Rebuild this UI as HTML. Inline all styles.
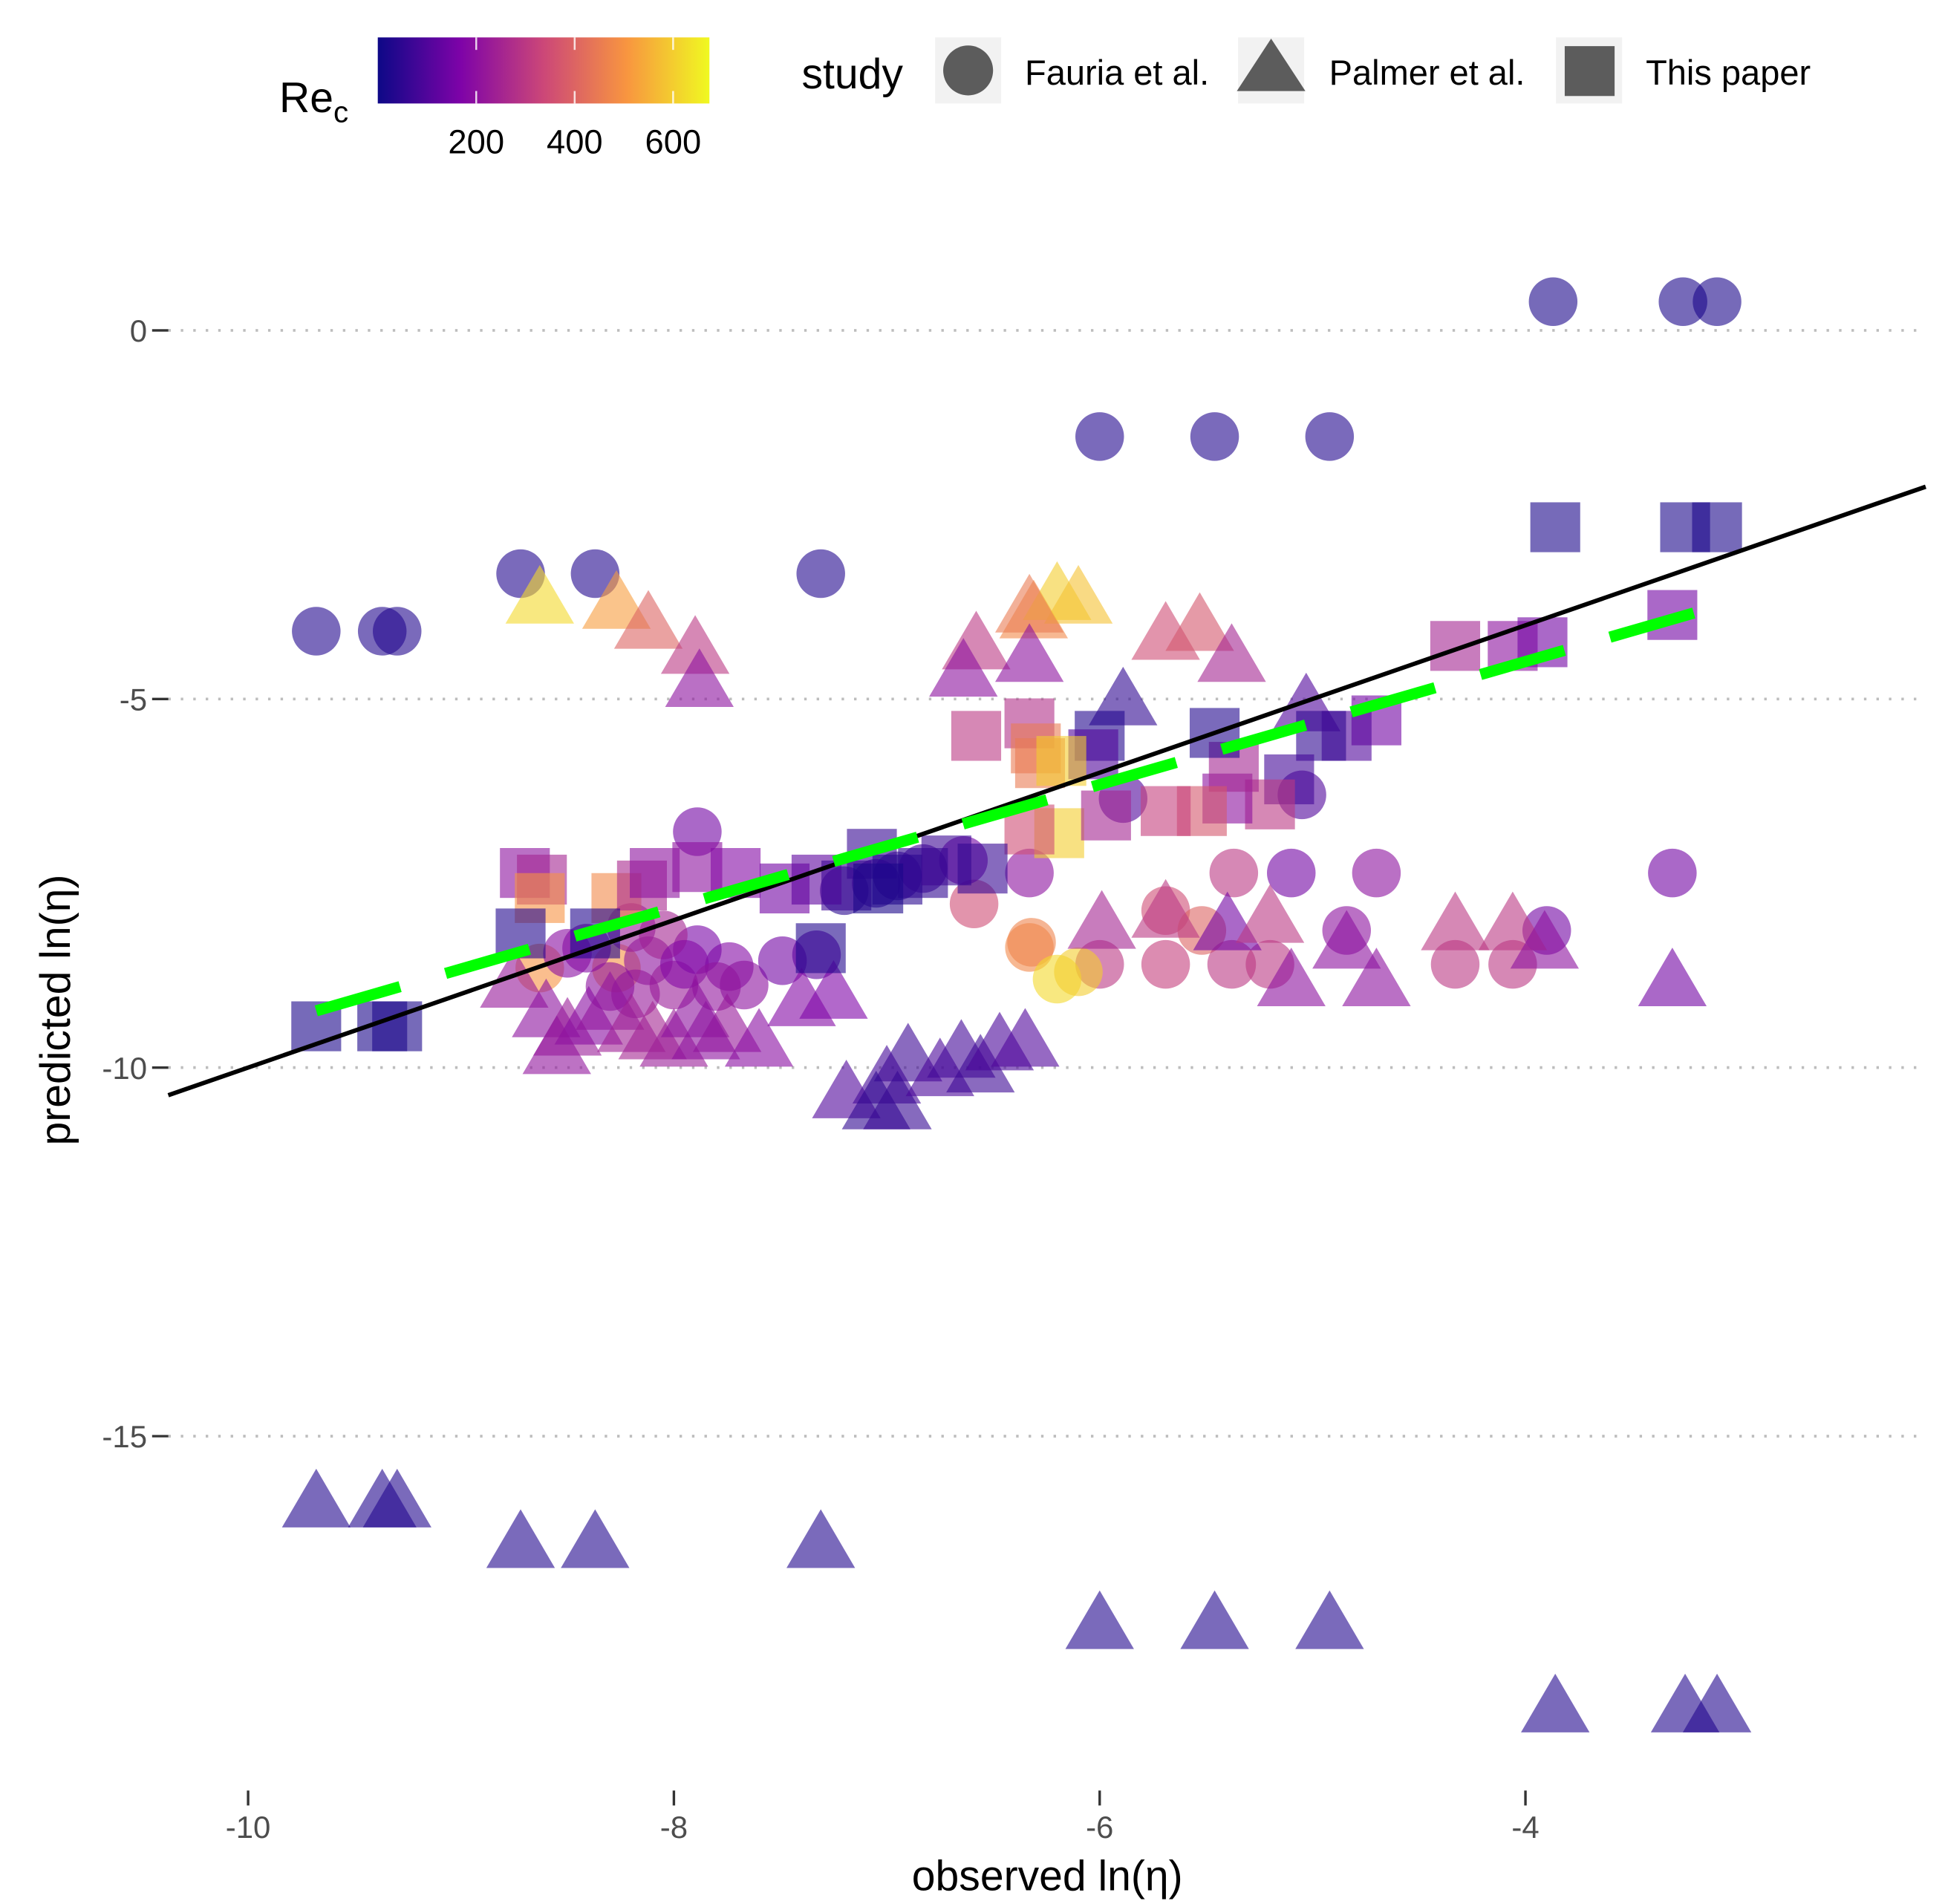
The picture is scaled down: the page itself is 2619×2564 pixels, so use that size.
<!DOCTYPE html>
<html><head><meta charset="utf-8"><style>
html,body{margin:0;padding:0;background:#fff;}
svg{display:block;font-family:"Liberation Sans",sans-serif;}
</style></head><body>
<svg id="chart" width="2619" height="2564" viewBox="0 0 1560 1527" preserveAspectRatio="none" xmlns="http://www.w3.org/2000/svg">
<defs>
<linearGradient id="plasma" x1="0" x2="1" y1="0" y2="0">
<stop offset="0" stop-color="#0d0887"/><stop offset="0.25" stop-color="#7e03a8"/><stop offset="0.5" stop-color="#cc4778"/><stop offset="0.75" stop-color="#f89540"/><stop offset="1" stop-color="#f0f921"/>
</linearGradient>
</defs>
<g id="grid"></g>
<g id="axes"></g>
<g id="marks"></g>
<g id="lines"></g>
<g>
<text x="224" y="90" font-size="34" fill="#000">Re<tspan font-size="24" dy="8">c</tspan></text>
<rect x="303" y="30" width="266" height="53" fill="url(#plasma)"/>
<g id="cbticks"></g>
</g>
<g>
<text x="643" y="71" font-size="34" fill="#000">study</text>
<rect x="750" y="30" width="53" height="53" fill="#f2f2f2"/>
<circle cx="776.5" cy="56.5" r="20" fill="#5c5c5c"/>
<text x="822" y="68" font-size="28" fill="#000">Fauria et al.</text>
<rect x="993" y="30" width="53" height="53" fill="#f2f2f2"/>
<polygon points="1019.5,31 1047,73 992,73" fill="#5c5c5c"/>
<text x="1066" y="68" font-size="28" fill="#000">Palmer et al.</text>
<rect x="1248" y="30" width="53" height="53" fill="#f2f2f2"/>
<rect x="1255" y="37" width="40" height="40" fill="#5c5c5c"/>
<text x="1320" y="68" font-size="28" fill="#000">This paper</text>
</g>
<text x="840" y="1516" font-size="34" text-anchor="middle" fill="#000">observed ln(η)</text>
<text transform="translate(56,810) rotate(-90)" font-size="34" text-anchor="middle" fill="#000">predicted ln(η)</text>
</svg>
<script>
const xTicks = [-10, -8, -6, -4];
const yTicks = [0, -5, -10, -15];
const cbTicks = [200, 400, 600];
// Fauria et al. (circles)
const circX = [-3.87,-3.26,-3.10,-6.0,-5.46,-4.92,-8.72,-8.37,-7.31,-9.68,-9.37,-9.30,
 -5.37,-5.10,-4.70,-3.31,-3.90,-4.84,-5.69,-5.52,-6.33,-6.32,-6.0,-5.69,-5.38,-5.20,-4.33,-4.06,-6.20,-6.10,
 -5.89,-5.05,-6.59,-6.64,-6.33,-7.89,-8.63,-8.27,-8.41,-8.12,-8.0,-7.74,-7.67,-7.49,-7.33,-7.89,-8.18,-6.95,-6.83,-7.05,-7.2,
 -8.3,-8.05,-7.95,-7.8,-8.5,-8.2];
const circY = [0.39,0.39,0.39,-1.44,-1.44,-1.44,-3.3,-3.3,-3.3,-4.08,-4.08,-4.08,
 -7.36,-7.36,-7.36,-7.36,-8.14,-8.14,-7.87,-8.14,-8.37,-8.3,-8.6,-8.6,-8.6,-8.6,-8.6,-8.6,-8.8,-8.7,
 -6.35,-6.3,-7.78,-7.19,-7.36,-6.8,-8.65,-8.65,-8.38,-8.55,-8.88,-8.63,-8.88,-8.55,-8.47,-8.4,-9.0,-7.4,-7.3,-7.5,-7.6,
 -8.9,-8.2,-8.6,-8.9,-8.45,-8.1];
const circRe = [20,20,20,30,30,30,30,30,30,30,30,30,
 300,150,200,150,150,200,350,400,480,470,300,320,300,300,300,300,620,600,
 100,100,350,150,200,150,500,500,180,200,230,180,200,150,120,160,220,60,80,50,40,
 200,250,180,210,190,230];
// Palmer et al. (triangles)
const triX = [-9.68,-9.37,-9.30,-8.72,-8.37,-7.31,-6.0,-5.46,-4.92,-3.86,-3.25,-3.10,
 -8.63,-8.27,-8.12,-7.90,-7.88,-6.31,-6.20,-6.10,-6.33,-6.58,-6.64,-6.33,-5.69,-5.53,-5.38,-5.89,-5.03,
 -5.99,-5.69,-5.40,-5.20,-4.33,-4.06,-3.91,-4.84,-5.10,-4.70,-3.31,
 -8.75,-8.6,-8.5,-8.4,-8.3,-8.1,-8.0,-7.9,-7.75,-7.6,-8.55,-8.2,-7.85,-7.4,-7.25,
 -7.19,-7.0,-6.9,-7.05,-6.95,-6.75,-6.65,-6.56,-6.47,-6.35];
const triY = [-15.95,-15.95,-15.95,-16.5,-16.5,-16.5,-17.6,-17.6,-17.6,-18.73,-18.73,-18.73,
 -3.69,-3.76,-4.03,-4.37,-4.82,-3.89,-3.64,-3.69,-3.81,-4.31,-4.68,-4.48,-4.18,-4.06,-4.48,-5.07,-5.15,
 -8.1,-7.95,-8.12,-8.02,-8.12,-8.12,-8.37,-8.37,-8.88,-8.88,-8.88,
 -8.9,-9.3,-9.55,-9.4,-9.2,-9.6,-9.7,-9.3,-9.5,-9.7,-9.8,-9.5,-9.6,-9.15,-9.05,
 -10.4,-10.2,-9.9,-10.55,-10.55,-10.1,-9.85,-10.05,-9.75,-9.7];
const triRe = [30,30,30,30,30,30,30,30,30,30,30,30,
 620,520,400,300,200,480,600,580,450,300,200,200,350,370,250,50,100,
 250,300,150,300,300,300,200,200,200,200,150,
 220,200,230,190,210,250,230,200,220,190,210,240,200,180,170,
 100,80,70,50,60,90,80,70,90,100];
// This paper (squares)
const sqX = [-9.68,-9.37,-9.30,-3.86,-3.25,-3.10,-4.33,-4.06,-3.92,-3.31,
 -4.70,-4.84,-4.96,-5.11,-5.20,-5.40,-5.37,-5.46,-5.52,-5.69,-6.0,-6.03,-6.33,-6.58,-6.30,-6.28,-6.18,-6.19,-6.33,-5.97,
 -8.70,-8.62,-8.63,-8.27,-8.15,-8.09,-7.89,-7.71,-7.48,-7.33,-7.19,-7.07,-6.95,-6.83,-6.72,-6.55,-8.72,-8.37,-7.31,-7.04];
const sqY = [-9.44,-9.44,-9.44,-2.67,-2.67,-2.67,-4.28,-4.28,-4.23,-3.86,
 -5.29,-5.50,-5.50,-6.09,-6.43,-6.35,-5.92,-5.46,-6.52,-6.52,-5.5,-5.75,-5.33,-5.50,-5.67,-5.87,-5.84,-6.82,-6.77,-6.58,
 -7.36,-7.45,-7.70,-7.70,-7.53,-7.36,-7.28,-7.36,-7.57,-7.45,-7.53,-7.1,-7.45,-7.36,-7.19,-7.3,-8.18,-8.18,-8.38,-7.57];
const sqRe = [20,20,20,20,20,20,250,200,150,150,
 150,100,50,80,300,200,250,30,370,320,30,100,280,300,450,450,600,600,350,250,
 200,250,500,480,260,200,200,180,150,120,70,60,40,50,70,60,30,30,30,20];
// fitted lines
const idLine = {x:[-10.375,-2.12]};
const fitX = [-9.68,-3.11];
const fitY = [-9.23,-3.75];

const NS='http://www.w3.org/2000/svg';
const sx = v => 199 + (v + 10) * 170.75;
const sy = v => 265 - v * 59.12;
const cbx = v => 303 + v * 0.3948;
const stops=[[13,8,135],[126,3,168],[204,71,120],[248,149,64],[240,249,33]];
function plasma(re){let t=Math.max(0,Math.min(1,re/675))*4;let i=Math.min(3,Math.floor(t));let f=t-i;
 const a=stops[i],b=stops[i+1];return 'rgb('+a.map((c,k)=>Math.round(c+(b[k]-c)*f)).join(',')+')';}
function mk(tag,attrs,parent){const e=document.createElementNS(NS,tag);for(const k in attrs)e.setAttribute(k,attrs[k]);parent.appendChild(e);return e;}
const grid=document.getElementById('grid'),axes=document.getElementById('axes'),marks=document.getElementById('marks'),lines=document.getElementById('lines'),cb=document.getElementById('cbticks');
yTicks.forEach(t=>{
 const g=mk('line',{x1:135,x2:1540,y1:sy(t),y2:sy(t),stroke:'#bdbdbd','stroke-width':2.2,'stroke-dasharray':'2 8'},grid);
 
 
 const tk=mk('line',{x1:122,x2:135,y1:sy(t),y2:sy(t),stroke:'#333','stroke-width':2},axes);
 
 
 const tx=mk('text',{x:118,y:sy(t)+9,'font-size':25,'text-anchor':'end',fill:'#4d4d4d'},axes);
 tx.textContent=t;
 
 
});
xTicks.forEach(t=>{
 const tk=mk('line',{x1:sx(t),x2:sx(t),y1:1436,y2:1448,stroke:'#333','stroke-width':2},axes);
 
 
 const tx=mk('text',{x:sx(t),y:1474,'font-size':25,'text-anchor':'middle',fill:'#4d4d4d'},axes);
 tx.textContent=t;
 
 
});
cbTicks.forEach(t=>{
 mk('line',{x1:cbx(t),x2:cbx(t),y1:30,y2:40,stroke:'#fff','stroke-width':1.5,opacity:0.8},cb);
 mk('line',{x1:cbx(t),x2:cbx(t),y1:73,y2:83,stroke:'#fff','stroke-width':1.5,opacity:0.8},cb);
 const tx=mk('text',{x:cbx(t),y:123,'font-size':27,'text-anchor':'middle',fill:'#000'},cb);
 tx.textContent=t;
 
 
});
circX.forEach((x,i)=>{
 const c=mk('circle',{cx:sx(x),cy:sy(circY[i]),r:19.5,fill:plasma(circRe[i]),'fill-opacity':0.6},marks);
 
 
});
triX.forEach((x,i)=>{
 const cx=sx(x),cy=sy(triY[i]);
 const p=mk('polygon',{points:`${cx},${cy-30} ${cx+27.5},${cy+17} ${cx-27.5},${cy+17}`,fill:plasma(triRe[i]),'fill-opacity':0.6},marks);
 
 
});
sqX.forEach((x,i)=>{
 const r=mk('rect',{x:sx(x)-20,y:sy(sqY[i])-20,width:40,height:40,fill:plasma(sqRe[i]),'fill-opacity':0.6},marks);
 
 
});
const l1=mk('line',{x1:sx(idLine.x[0]),y1:sy(idLine.x[0]),x2:sx(idLine.x[1]),y2:sy(idLine.x[1]),stroke:'#000','stroke-width':3.5},lines);


const l2=mk('line',{x1:sx(fitX[0]),y1:sy(fitY[0]),x2:sx(fitX[1]),y2:sy(fitY[1]),stroke:'#00ff00','stroke-width':9,'stroke-dasharray':'70 38'},lines);


</script>
</body></html>
